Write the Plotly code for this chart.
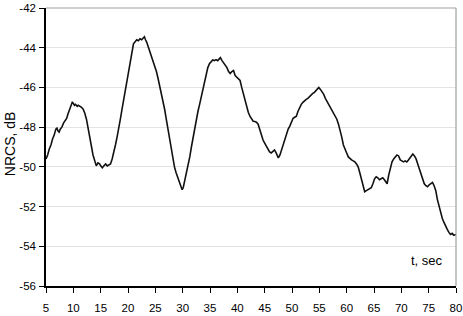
import plotly.graph_objects as go

t_sec = [5.0,5.3,5.6,5.9,6.2,6.5,6.8,7.0,7.2,7.4,7.6,7.9,8.2,8.5,8.8,9.0,9.3,9.6,9.8,10.0,
10.2,10.4,10.7,10.9,11.2,11.5,11.8,12.1,12.4,12.7,13.0,13.3,13.6,13.9,14.2,14.5,14.8,15.0,15.3,15.6,
15.9,16.2,16.5,16.8,17.1,17.4,17.7,18.0,18.3,18.6,18.9,19.2,19.5,19.8,20.1,20.4,20.7,21.0,21.3,21.6,
21.9,22.2,22.5,22.8,23.0,23.2,23.4,23.7,24.0,24.3,24.6,24.9,25.2,25.5,25.8,26.1,26.4,26.7,27.0,27.3,
27.6,27.9,28.2,28.5,28.8,29.1,29.4,29.7,29.9,30.1,30.4,30.7,31.0,31.3,31.6,31.9,32.2,32.5,32.8,33.1,
33.4,33.7,34.0,34.3,34.6,34.9,35.2,35.5,35.8,36.1,36.4,36.7,36.9,37.2,37.5,37.8,38.1,38.4,38.7,39.0,
39.3,39.6,39.9,40.2,40.5,40.8,41.1,41.4,41.7,42.0,42.3,42.6,42.9,43.2,43.5,43.8,44.1,44.4,44.7,45.0,
45.3,45.6,45.9,46.2,46.5,46.8,47.1,47.5,47.8,48.1,48.4,48.7,49.0,49.3,49.6,49.9,50.2,50.5,50.8,51.1,
51.4,51.7,52.0,52.3,52.6,52.9,53.2,53.5,53.8,54.1,54.4,54.7,54.9,55.2,55.5,55.8,56.1,56.4,56.7,57.0,
57.3,57.6,57.9,58.2,58.5,58.8,59.1,59.4,59.7,60.0,60.3,60.6,60.9,61.2,61.5,61.8,62.1,62.4,62.7,63.0,
63.3,63.6,63.9,64.2,64.5,64.8,65.1,65.4,65.7,66.0,66.3,66.6,66.9,67.2,67.4,67.7,68.0,68.3,68.6,68.9,
69.2,69.5,69.8,70.1,70.4,70.7,71.0,71.3,71.6,71.9,72.1,72.4,72.7,73.0,73.3,73.6,73.9,74.2,74.5,74.8,
75.1,75.4,75.7,76.0,76.3,76.6,76.9,77.2,77.5,77.8,78.1,78.4,78.7,79.0,79.3,79.6,80.0]

nrcs_db = [-49.6,-49.4,-49.1,-48.9,-48.6,-48.4,-48.1,-48.05,-48.2,-48.25,-48.1,-48.0,-47.8,-47.65,-47.55,-47.35,-47.1,-46.85,-46.75,-46.8,
-46.9,-46.85,-46.95,-46.9,-46.95,-47.0,-47.1,-47.3,-47.6,-48.0,-48.5,-48.95,-49.4,-49.75,-49.95,-49.8,-49.85,-49.95,-50.05,-49.95,
-49.85,-49.95,-49.9,-49.85,-49.6,-49.3,-48.9,-48.5,-48.1,-47.6,-47.1,-46.6,-46.2,-45.8,-45.3,-44.75,-44.2,-43.8,-43.7,-43.6,
-43.65,-43.55,-43.6,-43.5,-43.45,-43.6,-43.7,-43.95,-44.2,-44.4,-44.65,-44.9,-45.2,-45.55,-45.9,-46.3,-46.7,-47.1,-47.6,-48.1,
-48.6,-49.1,-49.6,-50.0,-50.3,-50.55,-50.8,-51.0,-51.15,-51.05,-50.7,-50.35,-49.95,-49.5,-49.0,-48.5,-48.0,-47.6,-47.2,-46.85,
-46.5,-46.1,-45.8,-45.3,-45.0,-44.8,-44.7,-44.62,-44.65,-44.6,-44.65,-44.55,-44.5,-44.65,-44.75,-44.85,-45.0,-45.2,-45.3,-45.2,
-45.15,-45.4,-45.5,-45.55,-45.65,-46.0,-46.35,-46.7,-47.0,-47.25,-47.45,-47.6,-47.7,-47.72,-47.75,-47.85,-48.15,-48.45,-48.65,-48.8,
-48.95,-49.15,-49.25,-49.3,-49.2,-49.15,-49.3,-49.55,-49.4,-49.15,-48.85,-48.55,-48.3,-48.1,-47.95,-47.7,-47.55,-47.5,-47.45,-47.2,
-47.0,-46.85,-46.75,-46.65,-46.6,-46.55,-46.45,-46.4,-46.3,-46.25,-46.15,-46.05,-46.0,-46.1,-46.2,-46.35,-46.55,-46.7,-46.85,-47.0,
-47.15,-47.3,-47.45,-47.6,-47.85,-48.15,-48.5,-48.9,-49.15,-49.3,-49.5,-49.6,-49.65,-49.7,-49.75,-49.85,-50.0,-50.3,-50.65,-51.0,
-51.25,-51.2,-51.15,-51.1,-51.05,-50.85,-50.6,-50.5,-50.55,-50.65,-50.6,-50.55,-50.65,-50.75,-50.85,-50.4,-50.05,-49.75,-49.6,-49.5,
-49.4,-49.45,-49.65,-49.7,-49.75,-49.7,-49.75,-49.65,-49.55,-49.4,-49.35,-49.45,-49.6,-49.85,-50.1,-50.4,-50.7,-50.85,-50.95,-51.0,
-50.9,-50.85,-50.78,-50.95,-51.2,-51.65,-52.0,-52.35,-52.6,-52.8,-53.0,-53.15,-53.3,-53.4,-53.35,-53.45,-53.4]

x_ticks = [5,10,15,20,25,30,35,40,45,50,55,60,65,70,75,80]
y_ticks = [-56,-54,-52,-50,-48,-46,-44,-42]

fig = go.Figure()
fig.add_trace(go.Scatter(x=t_sec, y=nrcs_db, mode="lines",
                         line=dict(color="#111111", width=1.6), showlegend=False))

family = "Liberation Sans, Arial, sans-serif"
tickfont = dict(family=family, size=11.5, color="#000000")
labfont = dict(family=family, size=13, color="#000000")
titlefont = dict(family=family, size=14, color="#000000")

fig.update_layout(
    width=463, height=316,
    margin=dict(l=46, r=7, t=8, b=30),
    paper_bgcolor="white", plot_bgcolor="white",
    font=tickfont,
    xaxis=dict(range=[5, 80], tickvals=x_ticks, ticktext=[str(v) for v in x_ticks],
               showgrid=False, zeroline=False, showline=True, linecolor="#000000", linewidth=1.5,
               ticks="outside", ticklen=5, tickcolor="#000000", tickwidth=1, tickfont=tickfont,
               ticklabelstandoff=5, automargin=False),
    yaxis=dict(range=[-56, -42], tickvals=y_ticks, ticktext=[str(v) for v in y_ticks],
               showgrid=True, gridcolor="#e3e3e3", gridwidth=1, zeroline=False,
               showline=True, linecolor="#000000", linewidth=1.5,
               ticks="outside", ticklen=5, tickcolor="#000000", tickwidth=1, tickfont=tickfont,
               ticklabelstandoff=1, automargin=False),
    shapes=[
        dict(type="line", xref="paper", yref="paper", x0=0, x1=1, y0=1, y1=1,
             line=dict(color="#a0a0a0", width=1.2)),
        dict(type="line", xref="paper", yref="paper", x0=1, x1=1, y0=0, y1=1,
             line=dict(color="#a0a0a0", width=1.2)),
    ],
    annotations=[
        dict(text="t, sec", xref="paper", yref="paper", x=0.929, y=0.0935,
             showarrow=False, font=labfont, xanchor="center", yanchor="middle"),
        dict(text="NRCS, dB", xref="paper", yref="paper", x=-0.1105, y=0.5126, textangle=-90,
             showarrow=False, font=titlefont, xanchor="left", yanchor="middle"),
    ],
)

fig.write_html("out.html")
